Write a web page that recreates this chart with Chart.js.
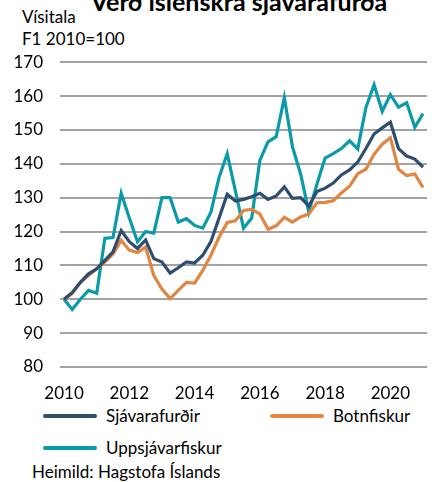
<!DOCTYPE html>
<html>
<head>
<meta charset="utf-8">
<script src="https://cdn.jsdelivr.net/npm/chart.js@4/dist/chart.umd.min.js"></script>
<style>
  body { margin: 0; width: 439px; height: 482px; overflow: hidden; background: #fff;
         font-family: Lato, "Noto Sans", sans-serif; color: #000; position: relative; }
  .txt { position: absolute; white-space: nowrap; font-size: 17px; line-height: 17px; }
  #title { position: absolute; left: 0; width: 478px; text-align: center; top: -11px;
           font-size: 25px; line-height: 25px; font-weight: bold; white-space: nowrap; }
  #box { position: absolute; left: 0; top: 35px; width: 439px; height: 365px; }
  .sw { position: absolute; height: 4px; width: 54px; border-radius: 2px; }
</style>
</head>
<body>
<div id="title">Verð íslenskra sjávarafurða</div>
<div class="txt" style="left:22px; top:8px;">Vísitala</div>
<div class="txt" style="left:22px; top:30px;">F1 2010=100</div>
<div id="box"><canvas id="chart"></canvas></div>
<div id="legend"></div>
<div class="txt" style="left:32px; top:463px;">Heimild: Hagstofa Íslands</div>
<script>
// quarterly, 2010Q1 - 2021Q1
var quarters = ['2010Q1','2010Q2','2010Q3','2010Q4','2011Q1','2011Q2','2011Q3','2011Q4',
  '2012Q1','2012Q2','2012Q3','2012Q4','2013Q1','2013Q2','2013Q3','2013Q4',
  '2014Q1','2014Q2','2014Q3','2014Q4','2015Q1','2015Q2','2015Q3','2015Q4',
  '2016Q1','2016Q2','2016Q3','2016Q4','2017Q1','2017Q2','2017Q3','2017Q4',
  '2018Q1','2018Q2','2018Q3','2018Q4','2019Q1','2019Q2','2019Q3','2019Q4',
  '2020Q1','2020Q2','2020Q3','2020Q4','2021Q1'];

var sjavarafurdir = [100, 102, 105, 107.5, 109, 111.5, 114, 120.3, 117, 115, 117.5, 112,
  111, 107.7, 109.3, 111, 110.7, 113, 117, 124, 131, 129, 129.5, 130.3,
  131.3, 129.5, 130.5, 133.2, 129.8, 130, 127.5, 131.8, 132.8, 134.3, 136.7, 138.2,
  140.5, 144.5, 148.8, 150.6, 152.3, 144.5, 142.3, 141.4, 139];

var botnfiskur = [100, 101.7, 105, 107, 109, 111, 113.4, 117.4, 114.5, 113.8, 115.4, 107,
  103, 100.2, 102.6, 105, 104.8, 108.5, 113, 118.3, 122.7, 123.2, 126.2, 126.5,
  125.2, 120.7, 121.7, 124.2, 122.8, 124.3, 125.2, 128.5, 128.6, 129.1, 131.4, 133.4,
  137.1, 138.4, 142.8, 145.8, 147.7, 138.4, 136.5, 137, 133];

var uppsjavarfiskur = [100, 97, 100, 102.6, 101.8, 118, 118.2, 131.3, 124, 117, 120, 119.5,
  130, 130, 122.8, 123.8, 121.8, 121, 125.7, 136, 143, 132, 121, 124,
  141, 146.5, 148, 159.5, 145, 137, 125.8, 134, 141.7, 143, 144.5, 146.8,
  144.4, 156.6, 163.3, 155.5, 160.4, 156.7, 158, 150.8, 154.8];

var seriesNames = ['Sjávarafurðir', 'Botnfiskur', 'Uppsjávarfiskur'];
var seriesColors = ['#2E4D6F', '#E08542', '#0A9AA8'];

var yMin = 80, yMax = 170, yStep = 10;

Chart.defaults.font.family = 'Lato, "Noto Sans", sans-serif';
Chart.defaults.font.size = 17;
Chart.defaults.color = '#000';

var ctx = document.getElementById('chart').getContext('2d');
var chart = new Chart(ctx, {
    type: 'line',
    data: {
        labels: quarters,
        datasets: [sjavarafurdir, botnfiskur, uppsjavarfiskur].map(function (d, i) {
            return {
                label: seriesNames[i],
                data: d,
                borderColor: seriesColors[i],
                backgroundColor: seriesColors[i],
                borderWidth: 3.2,
                pointRadius: 0,
                tension: 0,
                borderJoinStyle: 'miter'
            };
        })
    },
    options: {
        responsive: true,
        maintainAspectRatio: false,
        animation: false,
        layout: { padding: { top: 4, right: 1, left: 0, bottom: 0 } },
        plugins: { legend: { display: false }, tooltip: { enabled: false } },
        scales: {
            x: {
                offset: true,
                grid: { display: false, drawTicks: false },
                border: { display: false },
                ticks: {
                    autoSkip: false, maxRotation: 0, padding: 16,
                    callback: function (v, i) {
                        var q = quarters[i];
                        var yr = parseInt(q.slice(0, 4));
                        return (q.slice(4) === 'Q1' && yr % 2 === 0) ? String(yr) : '';
                    }
                },
                afterFit: function (s) { s.height = 33; }
            },
            y: {
                min: yMin, max: yMax,
                grid: { color: '#a3a3a3', lineWidth: 2, drawTicks: false },
                border: { display: false },
                ticks: { stepSize: yStep, padding: 17 },
                afterFit: function (s) { s.width = 60; }
            }
        }
    }
});

// legend like the original: two columns, wrapping
var legendPos = [[43, 416], [270, 416], [43, 448]];
var lg = document.getElementById('legend');
chart.data.datasets.forEach(function (ds, i) {
    var p = legendPos[i];
    var sw = document.createElement('div');
    sw.className = 'sw';
    sw.style.left = p[0] + 'px';
    sw.style.top = (p[1] - 2) + 'px';
    sw.style.background = ds.borderColor;
    lg.appendChild(sw);
    var t = document.createElement('div');
    t.className = 'txt';
    t.style.left = (p[0] + 63) + 'px';
    t.style.top = (p[1] - 9) + 'px';
    t.textContent = ds.label;
    lg.appendChild(t);
});
</script>
</body>
</html>
